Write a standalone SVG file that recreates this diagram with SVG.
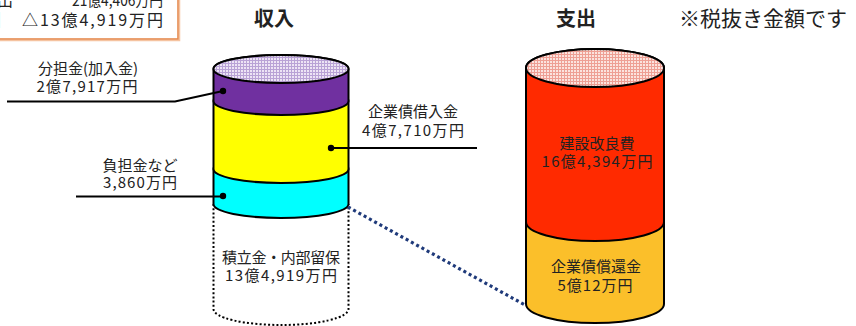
<svg xmlns="http://www.w3.org/2000/svg" width="856" height="326" viewBox="0 0 856 326">
<style>
text{font-family:"Noto Sans CJK JP","Noto Sans",sans-serif;fill:#222}
.lbl{font-size:15px;text-anchor:middle}
.ttl{font-size:20px;font-weight:bold}
.seg{stroke:#000;stroke-width:2;stroke-linejoin:round}
.lead{stroke:#000;stroke-width:2;fill:none}
.dot{fill:#000}
</style>
<defs>
<pattern id="pl" width="3" height="3" patternUnits="userSpaceOnUse">
<rect width="3" height="3" fill="#EDE4F5"/>
<rect width="3" height="1" fill="#B9A2D6"/>
<rect width="1" height="3" fill="#B9A2D6"/>
</pattern>
<pattern id="pr" width="3" height="3" patternUnits="userSpaceOnUse">
<rect width="3" height="3" fill="#FBE3DE"/>
<rect width="3" height="1" fill="#EE9F94"/>
<rect width="1" height="3" fill="#EE9F94"/>
</pattern>
</defs>
<rect width="856" height="326" fill="#fff"/>

<g id="summary">
<rect x="-8" y="-8" width="187.5" height="48.5" fill="none" stroke="#F5C3A0" stroke-width="1.5"/>
<rect x="-10" y="-10" width="188" height="49" fill="#fff" stroke="#E58A4E" stroke-width="1.6"/>
<text x="-19" y="6" style="font-size:16px">支出</text>
<text x="72" y="6" style="font-size:16px" textLength="91" lengthAdjust="spacingAndGlyphs">21億4,406万円</text>
<text x="-30" y="26" style="font-size:16px">差引</text>
<text x="22" y="26" style="font-size:16px" textLength="141" lengthAdjust="spacing">△13億4,919万円</text>
</g>

<g id="titles">
<text class="ttl" x="254" y="26">収入</text>
<text class="ttl" x="556" y="26">支出</text>
<text x="679" y="26" style="font-size:21px">※税抜き金額です</text>
</g>

<g id="reserve">
<path d="M213.5 204 V309 A67.5 16 0 0 0 348.5 309 V204" fill="none" stroke="#000" stroke-width="2" stroke-dasharray="2 2.2"/>
<text class="lbl" x="281" y="263" textLength="118" lengthAdjust="spacing">積立金・内部留保</text>
<text class="lbl" x="281" y="281" textLength="112" lengthAdjust="spacing">13億4,919万円</text>
</g>

<g id="income-cylinder">
<path id="cyan" class="seg" fill="#00FFFF" d="M213.5 169 V204 A67.5 14 0 0 0 348.5 204 V169 A67.5 14 0 0 0 213.5 169 Z"/>
<path id="yellow" class="seg" fill="#FFFF00" d="M213.5 101 V169 A67.5 14 0 0 0 348.5 169 V101 A67.5 14 0 0 0 213.5 101 Z"/>
<path id="purple" class="seg" fill="#7030A0" d="M213.5 69 V101 A67.5 14 0 0 0 348.5 101 V69 A67.5 14 0 0 0 213.5 69 Z"/>
<ellipse cx="281" cy="69" rx="67.5" ry="14" fill="url(#pl)" stroke="#000" stroke-width="2"/>
</g>

<g id="expense-cylinder">
<path id="orange" class="seg" fill="#FBBF2A" d="M526 222 V304 A69 19 0 0 0 664 304 V222 A69 19 0 0 0 526 222 Z"/>
<path id="red" class="seg" fill="#FF2A00" d="M526 68 V222 A69 19 0 0 0 664 222 V68 A69 19 0 0 0 526 68 Z"/>
<ellipse cx="595" cy="68" rx="69" ry="19" fill="url(#pr)" stroke="#000" stroke-width="2"/>
<text class="lbl" x="597" y="149">建設改良費</text>
<text class="lbl" x="597" y="167" textLength="111" lengthAdjust="spacing">16億4,394万円</text>
<text class="lbl" x="596" y="272">企業債償還金</text>
<text class="lbl" x="595" y="291" textLength="75" lengthAdjust="spacing">5億12万円</text>
</g>

<g id="label-bunntan">
<text class="lbl" x="88" y="74">分担金(加入金)</text>
<text class="lbl" x="87" y="92" textLength="101" lengthAdjust="spacing">2億7,917万円</text>
</g>
<g id="label-kisai">
<text class="lbl" x="413" y="117">企業債借入金</text>
<text class="lbl" x="413" y="136" textLength="102" lengthAdjust="spacing">4億7,710万円</text>
</g>
<g id="label-futan">
<text class="lbl" x="140" y="171">負担金など</text>
<text class="lbl" x="140" y="188" textLength="74" lengthAdjust="spacing">3,860万円</text>
</g>

<g id="connectors">
<polyline class="lead" points="7,101.5 175,101.5 223,91"/>
<circle class="dot" cx="223" cy="91" r="3.2"/>
<line class="lead" x1="331" y1="148" x2="477" y2="148"/>
<circle class="dot" cx="331" cy="148" r="3.2"/>
<line class="lead" x1="76" y1="196.5" x2="223" y2="196.5"/>
<circle class="dot" cx="223" cy="196" r="3.2"/>
<line x1="348" y1="207" x2="525" y2="305" stroke="#1F3A7A" stroke-width="3.2" stroke-dasharray="3 3"/>
</g>
</svg>
